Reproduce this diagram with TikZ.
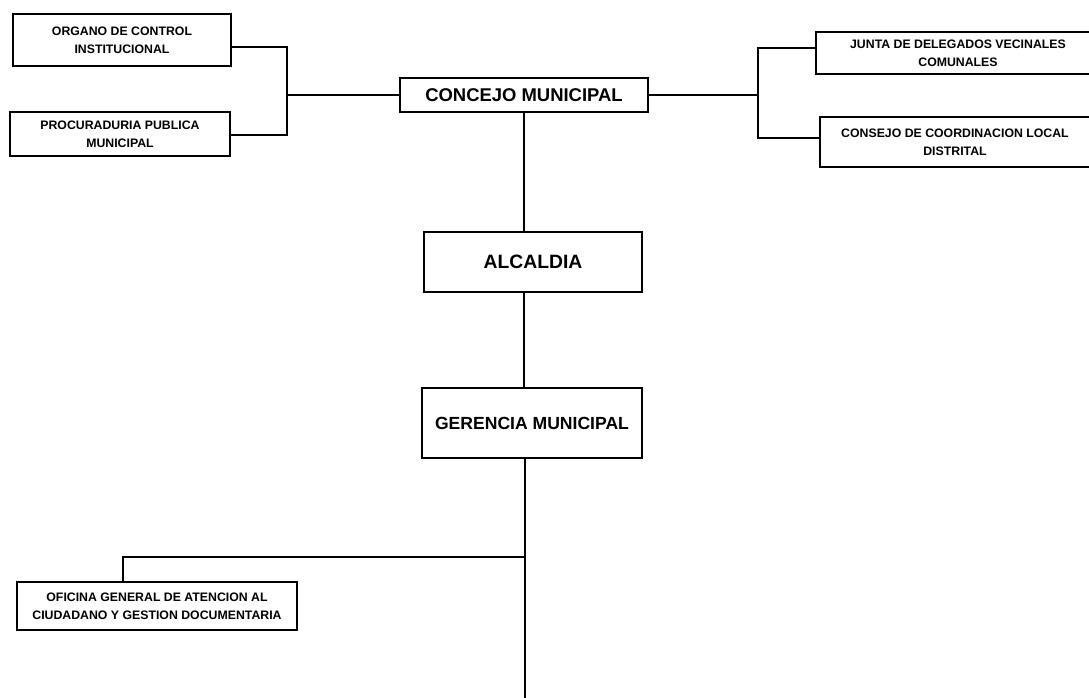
\documentclass[tikz,border=0pt]{standalone}
\usepackage{fontspec}
\setmainfont{Liberation Sans}
\tikzset{
	unit/.style={draw=black, line width=1.1pt, rectangle, inner sep=0pt, align=center, font=\bfseries\fontsize{7}{10}\selectfont},
	head/.style={unit, font=\bfseries\fontsize{10.5}{12}\selectfont},
	size/.style 2 args={minimum width=#1*0.02cm, minimum height=#2*0.02cm},
	link/.style={draw=black, line width=1.1pt, solid}
}
\begin{document}
\begin{tikzpicture}[x=0.02cm, y=-0.02cm]
	\clip (0,0) rectangle (1089,697);
	\node[unit, size={218}{52}] (oci) at (122,40) {ORGANO DE CONTROL\\INSTITUCIONAL};
	\node[unit, size={220}{44}] (ppm) at (120,134) {PROCURADURIA PUBLICA\\MUNICIPAL};
	\node[head, size={248}{34}] (cm) at (524,95) {CONCEJO MUNICIPAL};
	\node[unit, size={284}{42}] (jdv) at (958,53) {JUNTA DE DELEGADOS VECINALES\\COMUNALES};
	\node[unit, size={270}{50}] (ccl) at (955,142) {CONSEJO DE COORDINACION LOCAL\\DISTRITAL};
	\node[head, size={218}{60}, font=\bfseries\fontsize{11}{12}\selectfont] (alc) at (533,262) {ALCALDIA};
	\node[head, size={220}{70}, font=\bfseries\fontsize{10}{12}\selectfont] (gm) at (532,423) {GERENCIA MUNICIPAL};
	\node[unit, size={280}{48}] (oga) at (157,606) {OFICINA GENERAL DE ATENCION AL\\CIUDADANO Y GESTION DOCUMENTARIA};
	\coordinate (lbt) at (287,47);
	\coordinate (lbb) at (287,135);
	\coordinate (rbt) at (758,48);
	\coordinate (rbb) at (758,138);
	\coordinate (br) at (123,557);
	\coordinate (bot) at (525,700);
	\draw[link] (oci.east |- lbt) -- (lbt) -- (lbb) -- (ppm.east |- lbb);
	\draw[link] (cm.west) -- (cm.west -| lbt);
	\draw[link] (jdv.west |- rbt) -- (rbt) -- (rbb) -- (ccl.west |- rbb);
	\draw[link] (cm.east) -- (cm.east -| rbt);
	\draw[link] (cm.south) -- (cm.south |- alc.north);
	\draw[link] (alc.south -| cm.south) -- (cm.south |- gm.north);
	\draw[link] (gm.south -| bot) -- (bot);
	\draw[link] (br -| bot) -- (br) -- (br |- oga.north);
\end{tikzpicture}
\end{document}
